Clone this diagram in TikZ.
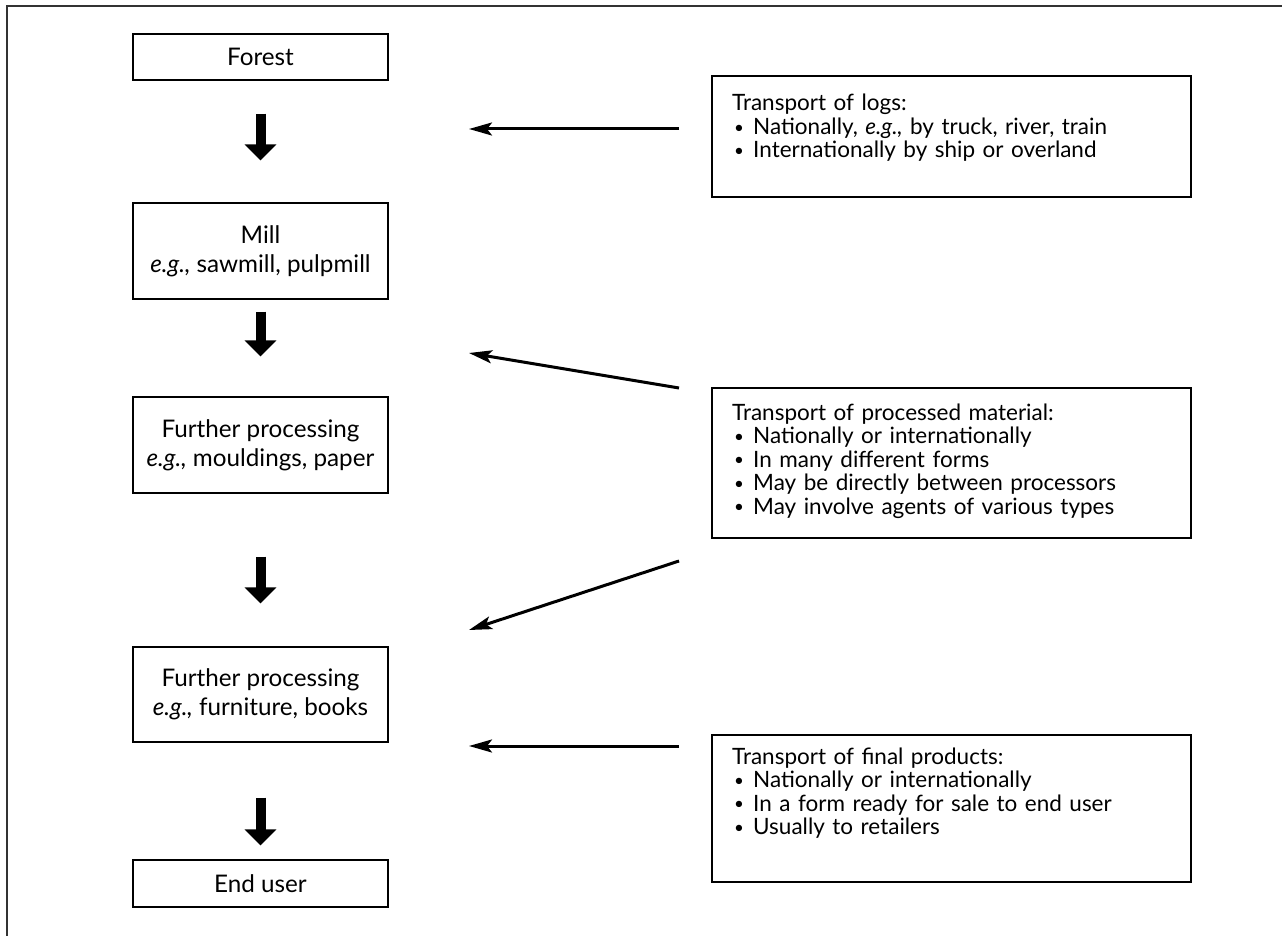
\documentclass[tikz,border=0pt]{standalone}
\usepackage{fontspec}
\setmainfont{Lato}
\usetikzlibrary{arrows.meta}
% size the left text so that reference line widths are matched
\newlength\wC \newlength\wD
\settowidth\wC{\fontsize{10}{12}\selectfont \textit{e.g.,} sawmill, pulpmill}
\settowidth\wD{\fontsize{10}{12}\selectfont Forest}
\pgfmathsetmacro\lsize{10*(220+67)/(\wC+\wD)}
\newcommand\boxfontL{\fontsize{\lsize}{29}\selectfont}
\newcommand\boxfontR{\fontsize{22.5}{23.5}\selectfont}
\newcommand\bul{\makebox[21pt][l]{\hspace{2pt}\raisebox{1.2pt}{\fontsize{17}{17}\selectfont •}}}
\begin{document}
\begin{tikzpicture}[x=1pt,y=-1pt,
  lbox/.style={draw, line width=1.3pt, minimum width=255pt, align=center, inner sep=0pt, font=\boxfontL},
  rbox/.style={draw, line width=1.3pt, minimum width=479pt, inner sep=0pt},
  rtext/.style={anchor=base west, inner sep=0pt, text width=455pt, align=left, font=\boxfontR},
  blockarrow/.style={line width=10pt, -{Triangle[width=31pt,length=16pt]}},
  thinarrow/.style={line width=3pt, -{Stealth[length=23pt,width=13pt,inset=5pt]}},
  frameline/.style={line width=2pt, black!80}]
\useasboundingbox (0,0) rectangle (1282,936);
\draw[frameline] (7,940) -- (7,6) -- (1290,6);

% left column
\node[lbox, minimum height=46pt] (forest) at (260.5,57) {Forest};
\node[lbox, minimum height=96pt] (mill) at (260.5,251) {Mill\\\textit{e.g.,} sawmill, pulpmill};
\node[lbox, minimum height=96pt] (proc1) at (260.5,445) {Further processing\\\textit{e.g.,} mouldings, paper};
\node[lbox, minimum height=95pt] (proc2) at (260.5,694.5) {Further processing\\\textit{e.g.,} furniture, books};
\node[lbox, minimum height=47pt] (enduser) at (260.5,883.5) {End user};

\draw[blockarrow, shorten <=33pt, shorten >=42pt] (forest.south) -- (mill.north);
\draw[blockarrow, shorten <=12pt, shorten >=40pt] (mill.south) -- (proc1.north);
\draw[blockarrow, shorten <=63pt, shorten >=43pt] (proc1.south) -- (proc2.north);
\draw[blockarrow, shorten <=55pt, shorten >=14pt] (proc2.south) -- (enduser.north);

% right column
\node[rbox, minimum height=121pt] (logs) at (951.5,136.5) {};
\node[rtext] (logsT) at (732,111) {Transport of logs:\\
\bul Nationally, \textit{e.g.,} by truck, river, train\\
\bul Internationally by ship or overland};

\node[rbox, minimum height=150pt] (procmat) at (951.5,463) {};
\node[rtext] (procmatT) at (732,420) {Transport of processed material:\\
\bul Nationally or internationally\\
\bul In many different forms\\
\bul May be directly between processors\\
\bul May involve agents of various types};

\node[rbox, minimum height=147pt] (final) at (951.5,808.5) {};
\node[rtext] (finalT) at (732,764) {Transport of final products:\\
\bul Nationally or internationally\\
\bul In a form ready for sale to end user\\
\bul Usually to retailers};

% thin arrows
\coordinate (a1s) at (679,129); \coordinate (a1e) at (469,129);
\coordinate (a2s) at (679,388); \coordinate (a2e) at (469,353);
\coordinate (a3s) at (679,561); \coordinate (a3e) at (469,630);
\coordinate (a4s) at (679,746); \coordinate (a4e) at (469,746);
\draw[thinarrow] (a1s) -- (a1e);
\draw[thinarrow] (a2s) -- (a2e);
\draw[thinarrow] (a3s) -- (a3e);
\draw[thinarrow] (a4s) -- (a4e);
\end{tikzpicture}
\end{document}
